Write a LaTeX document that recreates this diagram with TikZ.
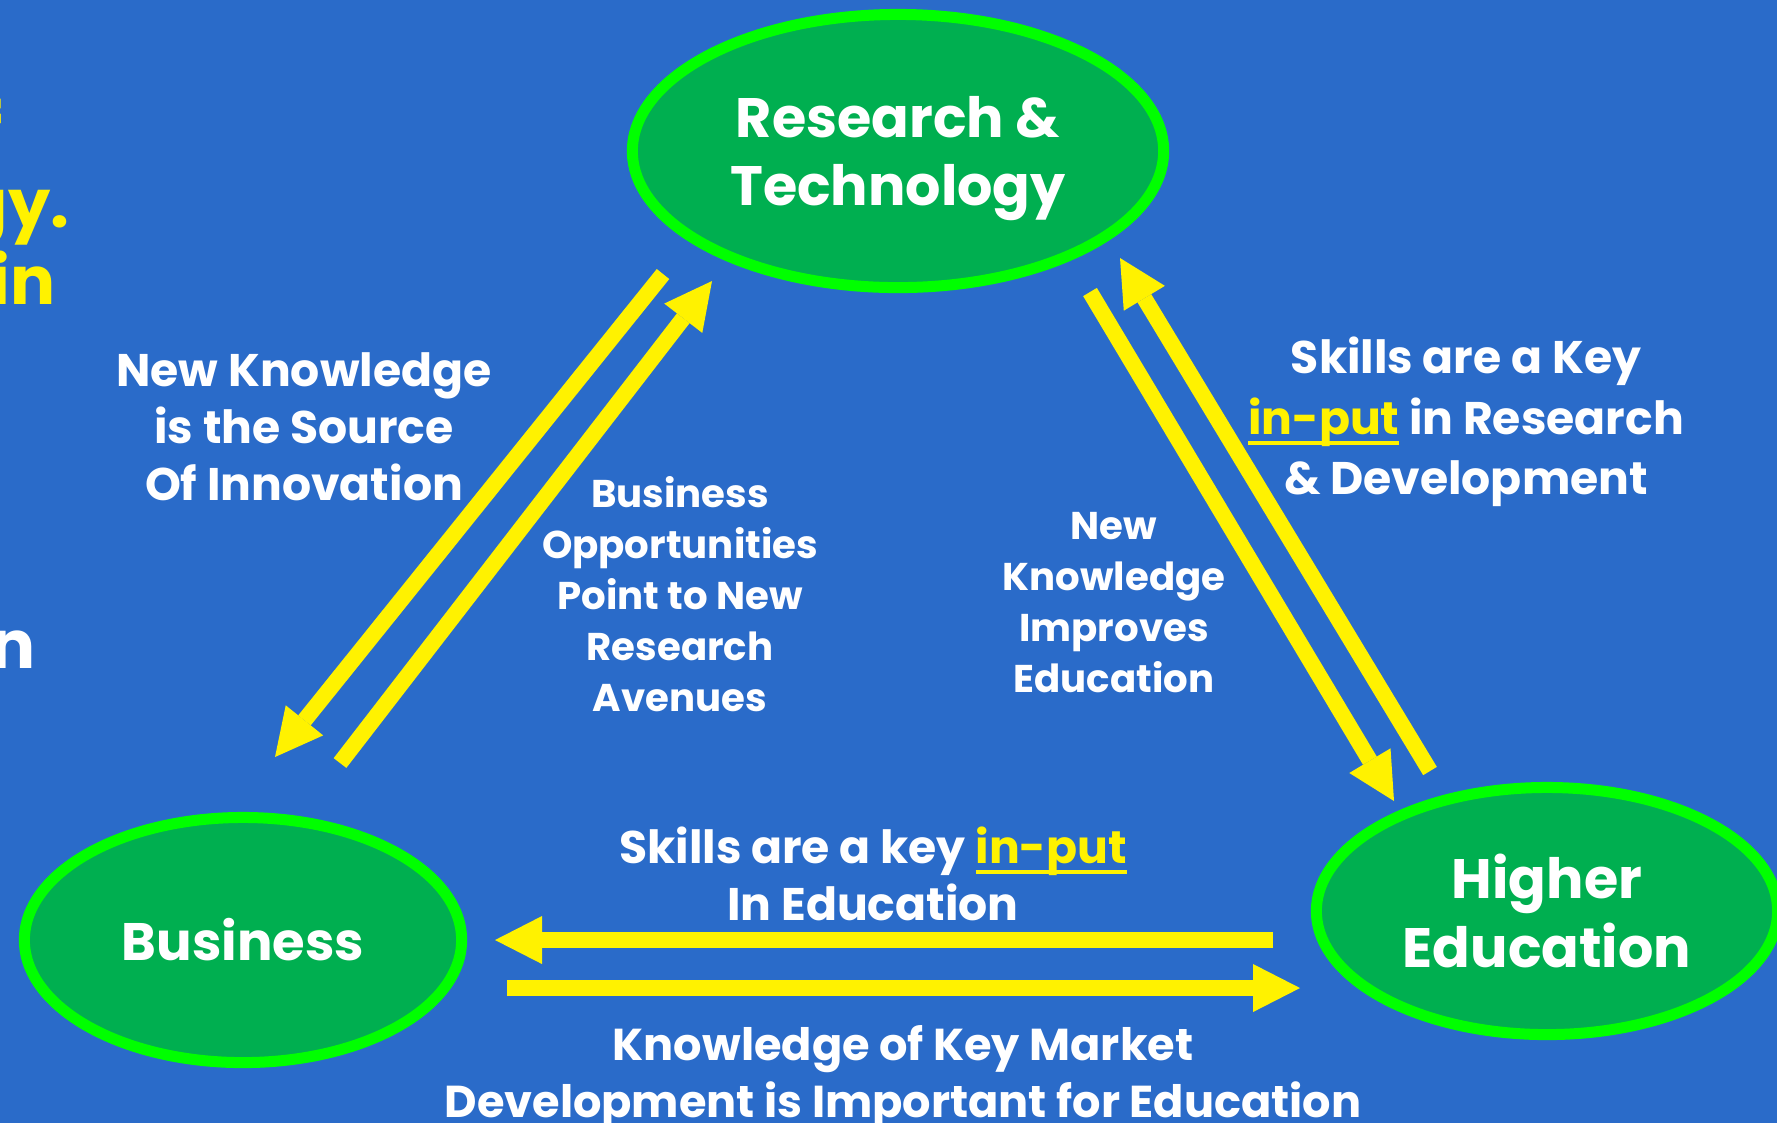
\documentclass[tikz,border=0pt]{standalone}
\usepackage{fontspec}
\setmainfont{Poppins}
\usetikzlibrary{shapes.geometric,arrows.meta}
\definecolor{slideblue}{HTML}{2A6BC9}
\definecolor{hubgreen}{HTML}{00AF50}
\definecolor{rimgreen}{HTML}{00FF00}
\newcommand{\inputword}{{\color{yellow}\setbox0\hbox{in-put}\rlap{\rule[-3pt]{\wd0}{1.2pt}}\box0}}
\begin{document}
\begin{tikzpicture}[x=0.01cm,y=-0.01cm,
  hub/.style={ellipse,draw=rimgreen,fill=hubgreen,line width=0.11cm,inner sep=0pt,
    text=white,align=center,font=\fontsize{15.8}{19.4}\selectfont\bfseries},
  note/.style={text=white,align=center,font=\fontsize{13}{16.2}\selectfont\bfseries},
  smallnote/.style={note,font=\fontsize{11}{14.5}\selectfont\bfseries},
  cutoff/.style={text=yellow,anchor=base east,inner sep=0pt,font=\fontsize{19}{23}\selectfont\bfseries},
  flow/.style={draw=yellow,line width=0.16cm,-{Triangle[width=0.48cm,length=0.47cm,line width=0pt]}}]
\clip (0,0) rectangle (1777,1123);
\fill[slideblue] (0,0) rectangle (1777,1123);

% Drawing the three hubs
\node[hub,text depth=0pt,minimum width=5.31cm,minimum height=2.73cm] (rt) at (898,151) {Research \&\\Technology};
\node[hub,minimum width=4.37cm,minimum height=2.45cm,font=\fontsize{15}{19.4}\selectfont\bfseries] (biz) at (243,940) {Business};
\node[hub,minimum width=4.61cm,minimum height=2.47cm] (he) at (1547,911) {Higher\\Education};

% Cut-off text at the left edge
\node[cutoff] (cutf) at (3,151) {f};
\node[cutoff] (cutgy) at (70,227) {gy.};
\node[cutoff] (cutin) at (56,304) {in};
\node[cutoff,text=white] (cutn) at (36,668) {n};

% Arrow ends
\coordinate (rb1) at (663,274);  \coordinate (rb2) at (275,757);
\coordinate (br1) at (340,763);  \coordinate (br2) at (712,281);
\coordinate (rh1) at (1090,292); \coordinate (rh2) at (1394,801);
\coordinate (hr1) at (1430,771); \coordinate (hr2) at (1120,258);
\coordinate (hb1) at (1273,940); \coordinate (hb2) at (495,940);
\coordinate (bh1) at (507,988);  \coordinate (bh2) at (1300,988);

% Drawing arrow rb1 rb2
\draw[flow] (rb1) -- (rb2);
% Drawing arrow br1 br2
\draw[flow] (br1) -- (br2);
% Drawing arrow rh1 rh2
\draw[flow] (rh1) -- (rh2);
% Drawing arrow hr1 hr2
\draw[flow] (hr1) -- (hr2);
% Drawing arrow hb1 hb2
\draw[flow] (hb1) -- (hb2);
% Drawing arrow bh1 bh2
\draw[flow] (bh1) -- (bh2);

% Labels
\node[note] (srcnote) at (304,427) {New Knowledge\\is the Source\\Of Innovation};
\node[note,font=\fontsize{13}{17.2}\selectfont\bfseries] (rdnote) at (1466,422) {Skills are a Key\\\inputword{} in Research\\\& Development};
\node[smallnote] (oppnote) at (680,594) {Business\\Opportunities\\Point to New\\Research\\Avenues};
\node[smallnote] (edunote) at (1114,603) {New\\Knowledge\\Improves\\Education};
\node[note] (skillnote) at (873,874) {Skills are a key \inputword\\In Education};
\node[note,font=\fontsize{12.7}{16.2}\selectfont\bfseries] (marketnote) at (903,1077) {Knowledge of Key Market\\Development is Important for Education};
\end{tikzpicture}
\end{document}
